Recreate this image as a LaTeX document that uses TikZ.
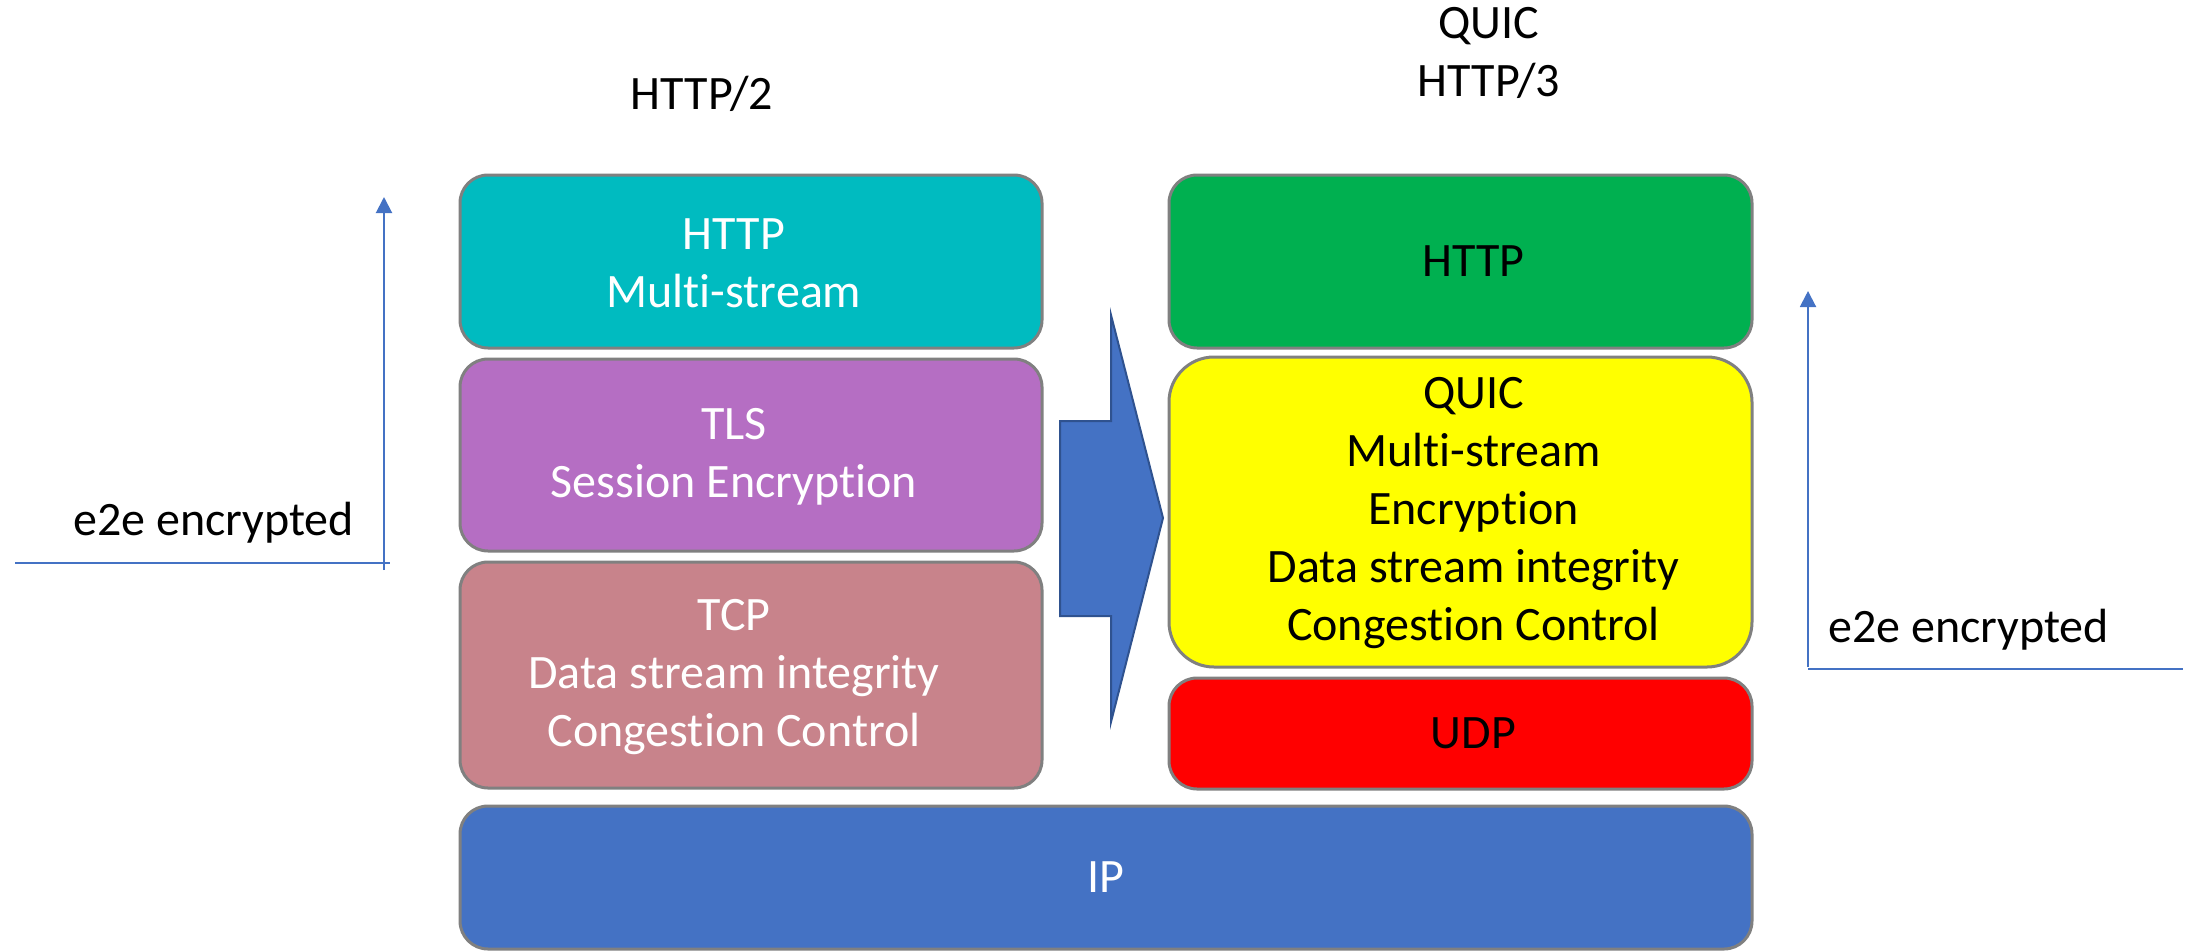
\documentclass[tikz,border=0pt]{standalone}
\usepackage{fontspec}
\setmainfont[Ligatures=NoCommon]{Carlito}
\usetikzlibrary{arrows.meta}
\definecolor{cteal}{HTML}{00BBC0}
\definecolor{cpurple}{HTML}{B56EC3}
\definecolor{crose}{HTML}{C8838B}
\definecolor{cblue}{HTML}{4472C4}
\definecolor{cblueline}{HTML}{2F528F}
\definecolor{cgreen}{HTML}{00B050}
\definecolor{cyellow}{HTML}{FFFF00}
\definecolor{cred}{HTML}{FF0000}
\definecolor{cgray}{HTML}{808080}
\definecolor{carrow}{HTML}{4472C4}
\begin{document}
\begin{tikzpicture}[x=1pt,y=-1pt,
  layer/.style={draw=cgray, line width=3pt, rounded corners=28pt, inner sep=0pt},
  lbl/.style={font=\fontsize{48}{58}\selectfont, align=center, inner sep=0pt},
  e2eline/.style={draw=carrow, line width=2pt},
  e2earrow/.style={draw=carrow, line width=2pt, -{Triangle[width=16pt,length=16pt]}}]
\useasboundingbox (0,0) rectangle (2198,951);

% left stack
\node[layer, fill=cteal, minimum width=582pt, minimum height=173pt] (http2) at (751,261.5) {};
\node[layer, fill=cpurple, minimum width=582pt, minimum height=192pt] (tls) at (751,455) {};
\node[layer, fill=crose, minimum width=582pt, minimum height=226pt] (tcp) at (751,675) {};
\node[layer, fill=cblue, minimum width=1292pt, minimum height=143pt] (ip) at (1106,877.5) {};

\node[lbl, text=white] (http2t) at ([xshift=-17pt,yshift=-2pt]http2.center) {HTTP\\Multi-stream};
\node[lbl, text=white] (tlst) at ([xshift=-17pt,yshift=-2pt]tls.center) {TLS\\Session Encryption};
\node[lbl, text=white] (tcpt) at ([xshift=-17pt,yshift=-2pt]tcp.center) {TCP\\Data stream integrity\\Congestion Control};
\node[lbl, text=white] (ipt) at (ip.center) {IP};

% right stack
\node[layer, fill=cgreen, minimum width=583pt, minimum height=173pt] (http3) at (1460.5,261.5) {};
\node[layer, fill=cyellow, rounded corners=45pt, minimum width=583pt, minimum height=310pt] (quic) at (1460.5,512) {};
\node[layer, fill=cred, minimum width=583pt, minimum height=111pt] (udp) at (1460.5,733.5) {};

\node[lbl] (http3t) at ([xshift=13pt]http3.center) {HTTP};
\node[lbl] (quict) at ([xshift=13pt,yshift=-1pt]quic.center) {QUIC\\Multi-stream\\Encryption\\Data stream integrity\\Congestion Control};
\node[lbl] (udpt) at ([xshift=13pt]udp.center) {UDP};

% headers
\node[lbl, anchor=base] (h2title) at (702,109.5) {HTTP/2};
\node[lbl] (h3title) at (1489,53) {QUIC\\HTTP/3};

% big transition arrow
\draw[fill=cblue, draw=cblueline, line width=2pt, line join=miter]
  (1060,421) -- (1111,421) -- (1111,315) -- (1163,518) -- (1111,722) -- (1111,616) -- (1060,616) -- cycle;

% left e2e
\coordinate (lbase) at (384,570);
\coordinate (ltip) at (384,197);
\coordinate (lh1) at (15,563);
\coordinate (lh2) at (390,563);
\draw[e2earrow] (lbase) -- (ltip);
\draw[e2eline] (lh1) -- (lh2);
\node[lbl, anchor=base west] (le2e) at (73,535) {e2e encrypted};

% right e2e
\coordinate (rbase) at (1808,667);
\coordinate (rtip) at (1808,291);
\coordinate (rh1) at (1808,669);
\coordinate (rh2) at (2183,669);
\draw[e2earrow] (rbase) -- (rtip);
\draw[e2eline] (rh1) -- (rh2);
\node[lbl, anchor=base west] (re2e) at (1828,642) {e2e encrypted};
\end{tikzpicture}
\end{document}
